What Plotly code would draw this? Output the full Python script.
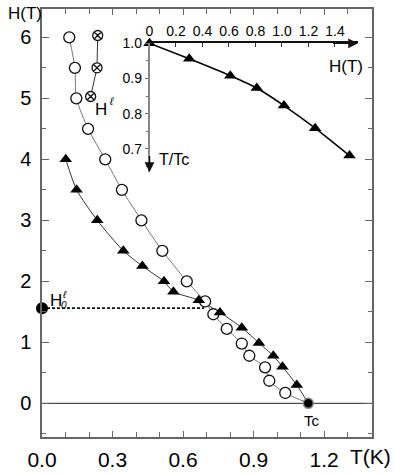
import plotly.graph_objects as go

# ---------------- data ----------------
circ_T = [0.116, 0.140, 0.146, 0.196, 0.269, 0.340, 0.423, 0.512, 0.616, 0.694, 0.729, 0.786, 0.850, 0.882, 0.949, 0.967, 1.035]
circ_H = [6.0, 5.5, 5.0, 4.5, 4.0, 3.5, 3.0, 2.5, 2.0, 1.67, 1.46, 1.22, 0.98, 0.78, 0.59, 0.37, 0.17]

tri_T = [0.101, 0.147, 0.235, 0.346, 0.427, 0.519, 0.559, 0.667, 0.757, 0.850, 0.923, 0.984, 1.023, 1.084]
tri_H = [4.0, 3.5, 3.0, 2.5, 2.25, 2.0, 1.83, 1.69, 1.49, 1.24, 0.99, 0.78, 0.60, 0.30]

cross_T = [0.207, 0.234, 0.237]
cross_H = [5.03, 5.50, 6.03]

Tc = 1.133
H0 = 1.56
H0_end_T = 0.69

inset_H = [0.0, 0.30, 0.61, 0.81, 1.015, 1.25, 1.51]
inset_t = [1.0, 0.956, 0.908, 0.873, 0.823, 0.759, 0.681]

x_ticks = [0.0, 0.3, 0.6, 0.9, 1.2]
y_ticks = [0, 1, 2, 3, 4, 5, 6]
inset_x_ticks = [0, 0.2, 0.4, 0.6, 0.8, 1.0, 1.2, 1.4]
inset_x_text = ["0", "0.2", "0.4", "0.6", "0.8", "1.0", "1.2", "1.4"]
inset_y_ticks = [0.7, 0.8, 0.9, 1.0]

FONT = "Liberation Sans, Arial, Helvetica, sans-serif"
AX = "#666666"

# plot-area geometry in pixels (used only to place free text labels)
W, H = 394, 474
L, R, T, B = 42, 22, 9, 37
PW, PH = W - L - R, H - T - B


def px(xp):
    return (xp - L) / PW


def py(yp):
    return (H - B - yp) / PH


fig = go.Figure()

# zero line
fig.add_trace(go.Scatter(x=[0, 1.404], y=[0, 0], mode="lines",
                         line=dict(color="#222", width=1), hoverinfo="skip"))
# dashed H0 line
fig.add_trace(go.Scatter(x=[0, H0_end_T], y=[H0, H0], mode="lines",
                         line=dict(color="#111", width=1.6, dash="3px,2px"), hoverinfo="skip"))

# connecting curves
fig.add_trace(go.Scatter(x=circ_T + [Tc], y=circ_H + [0], mode="lines",
                         line=dict(color="#777", width=1, shape="spline", smoothing=0.6)))
fig.add_trace(go.Scatter(x=tri_T + [Tc], y=tri_H + [0], mode="lines",
                         line=dict(color="#333", width=1, shape="spline", smoothing=0.6)))
fig.add_trace(go.Scatter(x=cross_T, y=cross_H, mode="lines",
                         line=dict(color="#333", width=1)))

# markers
fig.add_trace(go.Scatter(x=circ_T, y=circ_H, mode="markers",
                         marker=dict(symbol="circle", size=11, color="white",
                                     line=dict(color="#111", width=1.3))))
fig.add_trace(go.Scatter(x=tri_T, y=tri_H, mode="markers",
                         marker=dict(symbol="triangle-up", size=11, color="black",
                                     line=dict(color="black", width=0))))
fig.add_trace(go.Scatter(x=cross_T, y=cross_H, mode="markers",
                         marker=dict(symbol="circle-x", size=10, color="white",
                                     line=dict(color="#111", width=1.3))))
fig.add_trace(go.Scatter(x=[Tc], y=[0], mode="markers",
                         marker=dict(symbol="circle", size=10, color="black",
                                     line=dict(color="#888", width=1.5))))
fig.add_trace(go.Scatter(x=[0], y=[H0], mode="markers", cliponaxis=False,
                         marker=dict(symbol="circle", size=12, color="black")))

# inset
fig.add_trace(go.Scatter(x=inset_H, y=inset_t, mode="lines+markers", xaxis="x2", yaxis="y2",
                         cliponaxis=False,
                         line=dict(color="black", width=1.5, shape="spline", smoothing=0.5),
                         marker=dict(symbol="triangle-up", size=11, color="black")))

x2_max = 1.574
y2_min = 0.6344

fig.update_layout(
    width=W, height=H,
    margin=dict(l=L, r=R, t=T, b=B, autoexpand=False),
    paper_bgcolor="white", plot_bgcolor="white",
    showlegend=False,
    font=dict(family=FONT, color="black"),
    xaxis=dict(range=[0, 1.404], tickvals=x_ticks, ticktext=[f"{v:.1f}" for v in x_ticks],
               automargin=False,
               showgrid=False, zeroline=False, showline=True, linecolor=AX, linewidth=1.5,
               mirror="ticks", ticks="inside", ticklen=6, tickcolor=AX, tickwidth=1,
               tickfont=dict(size=21), ticklabelstandoff=3,
               minor=dict(dtick=0.1, tick0=0, ticks="inside", ticklen=5, tickcolor=AX)),
    yaxis=dict(range=[-0.552, 6.464], tickvals=y_ticks, automargin=False,
               showgrid=False, zeroline=False, showline=True, linecolor=AX, linewidth=1.5,
               mirror="ticks", ticks="inside", ticklen=7, tickcolor=AX, tickwidth=1,
               tickfont=dict(size=20), ticklabelstandoff=5,
               minor=dict(dtick=0.5, tick0=0, ticks="inside", ticklen=4, tickcolor=AX)),
    xaxis2=dict(domain=[px(149.5), px(358)], range=[0, x2_max], automargin=False,
                anchor="y2", side="top", tickvals=inset_x_ticks, ticktext=inset_x_text,
                showgrid=False, zeroline=False, showline=True, linecolor="#111", linewidth=1.5,
                ticks="inside", ticklen=4, tickcolor="#333", tickfont=dict(size=14),
                ticklabelstandoff=0),
    yaxis2=dict(domain=[py(172), py(43.3)], range=[y2_min, 1.0], automargin=False,
                anchor="x2", side="left", tickvals=inset_y_ticks,
                ticktext=[f"{v:.1f}" for v in inset_y_ticks],
                showgrid=False, zeroline=False, showline=True, linecolor="#888", linewidth=1.5,
                ticks="outside", ticklen=3, tickcolor="#666", tickfont=dict(size=14),
                ticklabelstandoff=0,
                minor=dict(dtick=0.05, ticks="outside", ticklen=2, tickcolor="#666")),
)

ann = []
# arrow heads of inset axes
ann.append(dict(x=x2_max, y=1.0, ax=x2_max - 0.2, ay=1.0, xref="x2", yref="y2",
                axref="x2", ayref="y2", showarrow=True, arrowhead=2, arrowsize=1.3,
                arrowwidth=1.5, arrowcolor="#111", text=""))
ann.append(dict(x=0, y=y2_min, ax=0, ay=y2_min + 0.05, xref="x2", yref="y2",
                axref="x2", ayref="y2", showarrow=True, arrowhead=2, arrowsize=1.3,
                arrowwidth=1.5, arrowcolor="#111", text=""))


def label(xp, yp, text, size, xanchor="center"):
    ann.append(dict(x=px(xp), y=py(yp), xref="paper", yref="paper", text=text,
                    showarrow=False, font=dict(size=size), xanchor=xanchor, yanchor="middle"))


label(25, 13, "H(T)", 17)
label(346, 67, "H(T)", 17)
label(174, 159, "T/Tc", 16)
label(393, 457, "T(K)", 21, xanchor="right")
label(312, 420, "Tc", 15)
label(101, 109, "H", 17)
label(111, 101, "<i>ℓ</i>", 11)
label(56, 300, "H", 17)
label(64, 294, "<i>ℓ</i>", 10)
label(64, 305, "<i>0</i>", 10)

fig.update_layout(annotations=ann)

fig.write_html("out.html", config={"displayModeBar": False},
               post_script="document.body.style.margin='0';document.body.style.overflow='hidden';")
